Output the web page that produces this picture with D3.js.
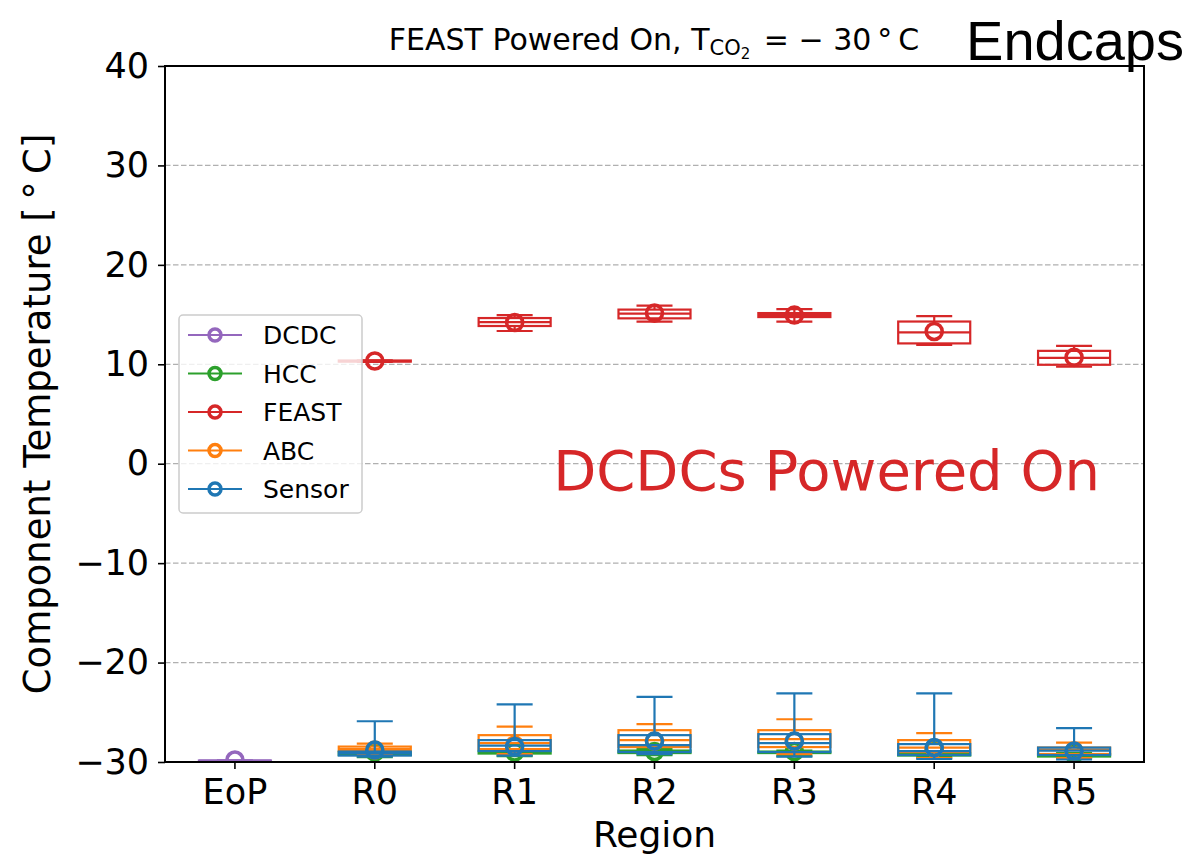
<!DOCTYPE html>
<html>
<head>
<meta charset="utf-8">
<script src="https://cdn.jsdelivr.net/npm/d3@7"></script>
<style>
  html, body { margin: 0; padding: 0; background: #fff; }
  svg { display: block; font-family: "DejaVu Sans", sans-serif; }
</style>
</head>
<body>
<svg id="chart" width="1184" height="857"></svg>
<script>
// Regions along the endcap and the component series
const regions = ["EoP", "R0", "R1", "R2", "R3", "R4", "R5"];
const seriesNames = ["DCDC", "HCC", "FEAST", "ABC", "Sensor"];
const seriesColors = ["#9467bd", "#2ca02c", "#d62728", "#ff7f0e", "#1f77b4"];
const yTicks = [-30, -20, -10, 0, 10, 20, 30, 40];

// Box statistics per region: [whisker low, q1, median, q3, whisker high]
const dcdcStats = [[-29.85, -29.85, -29.85, -29.85, -29.85], null, null, null, null, null, null];
const dcdcMeans = [-29.8, null, null, null, null, null, null];

const hccStats = [null,
  [-29.5, -29.3, -29.15, -29.0, -28.9],
  [-29.4, -29.15, -29.0, -28.9, -28.8],
  [-29.3, -29.1, -28.95, -28.85, -28.7],
  [-29.4, -29.1, -29.0, -28.95, -28.85],
  [-29.5, -29.35, -29.25, -29.15, -29.0],
  [-29.6, -29.45, -29.3, -29.2, -29.1]];
const hccMeans = [null, -29.0, -29.0, -28.95, -28.95, -28.7, -29.2];

const feastStats = [null,
  [10.25, 10.27, 10.32, 10.38, 10.4],
  [13.35, 13.85, 14.25, 14.65, 14.95],
  [14.3, 14.62, 15.1, 15.5, 15.9],
  [14.3, 14.75, 14.95, 15.15, 15.55],
  [11.95, 12.1, 13.2, 14.3, 14.85],
  [9.75, 9.95, 10.65, 11.35, 11.85]];
const feastMeans = [null, 10.33, 14.2, 15.15, 14.95, 13.3, 10.7];

const abcStats = [null,
  [-29.2, -28.9, -28.7, -28.45, -28.15],
  [-29.2, -28.7, -28.1, -27.3, -26.45],
  [-29.0, -28.5, -27.8, -26.8, -26.2],
  [-29.2, -28.5, -27.7, -26.8, -25.7],
  [-29.6, -29.0, -28.55, -27.8, -27.1],
  [-29.6, -29.2, -28.8, -28.55, -28.05]];
const abcMeans = [null, -28.8, -28.3, -27.9, -27.9, -28.6, -28.9];

const sensorStats = [null,
  [-29.45, -29.35, -29.1, -28.95, -25.9],
  [-29.35, -28.9, -28.35, -27.8, -24.2],
  [-29.2, -29.0, -28.3, -27.3, -23.45],
  [-29.45, -29.0, -28.1, -27.2, -23.1],
  [-29.7, -29.3, -28.9, -28.2, -23.1],
  [-29.75, -29.3, -28.85, -28.55, -26.6]];
const sensorMeans = [null, -28.8, -28.45, -27.9, -27.9, -28.55, -28.9];

const allStats = [dcdcStats, hccStats, feastStats, abcStats, sensorStats];
const allMeans = [dcdcMeans, hccMeans, feastMeans, abcMeans, sensorMeans];

const svg = d3.select("#chart");
const plot = { left: 165, right: 1144, top: 66, bottom: 762 };

const x = d3.scaleBand().domain(regions).range([plot.left, plot.right]).padding(0);
const y = d3.scaleLinear().domain([-30, 40]).range([plot.bottom, plot.top]);
const cx = r => x(r) + x.bandwidth() / 2;
const boxW = x.bandwidth() * 0.515;
const capW = boxW / 2;

svg.append("defs").append("clipPath").attr("id", "plotClip")
  .append("rect")
  .attr("x", plot.left).attr("y", plot.top)
  .attr("width", plot.right - plot.left).attr("height", plot.bottom - plot.top);

// Horizontal dashed grid
svg.append("g").selectAll("line")
  .data(yTicks.filter(t => t > -30 && t < 40))
  .join("line")
  .attr("x1", plot.left).attr("x2", plot.right)
  .attr("y1", d => y(d)).attr("y2", d => y(d))
  .attr("stroke", "#b0b0b0").attr("stroke-width", 1.3)
  .attr("stroke-dasharray", "5.5,2.5");

// Box plots, one group per component
const marks = svg.append("g").attr("clip-path", "url(#plotClip)");
seriesNames.forEach((name, si) => {
  const color = seriesColors[si];
  const g = marks.append("g").attr("class", "series-" + name);
  const rows = regions.map((r, i) => ({ r, s: allStats[si][i], m: allMeans[si][i] }))
    .filter(d => d.s);
  rows.forEach(d => {
    const [lo, q1, med, q3, hi] = d.s;
    const c = cx(d.r);
    const line = (x1, y1, x2, y2) => g.append("line")
      .attr("x1", x1).attr("y1", y1).attr("x2", x2).attr("y2", y2)
      .attr("stroke", color).attr("stroke-width", 2.2);
    // whiskers
    line(c, y(q1), c, y(lo));
    line(c, y(q3), c, y(hi));
    // caps
    line(c - capW / 2, y(lo), c + capW / 2, y(lo));
    line(c - capW / 2, y(hi), c + capW / 2, y(hi));
    // box
    g.append("rect")
      .attr("x", c - boxW / 2).attr("y", y(q3))
      .attr("width", boxW).attr("height", Math.max(0.01, y(q1) - y(q3)))
      .attr("fill", "none").attr("stroke", color).attr("stroke-width", 2.2);
    // median
    line(c - boxW / 2, y(med), c + boxW / 2, y(med));
    // mean marker
    if (d.m != null) {
      g.append("circle")
        .attr("cx", c).attr("cy", y(d.m)).attr("r", 8)
        .attr("fill", "none").attr("stroke", color).attr("stroke-width", 3.6);
    }
  });
});

// Axes
const yAxis = svg.append("g")
  .attr("transform", `translate(${plot.left},0)`)
  .call(d3.axisLeft(y).tickValues(yTicks).tickSize(7).tickPadding(9)
    .tickFormat(d => d < 0 ? "\u2212" + Math.abs(d) : d));
const xAxis = svg.append("g")
  .attr("transform", `translate(0,${plot.bottom})`)
  .call(d3.axisBottom(x).tickSize(7).tickPadding(10));
[yAxis, xAxis].forEach(a => {
  a.select(".domain").remove();
  a.selectAll(".tick line").attr("stroke", "#000").attr("stroke-width", 1.6);
  a.selectAll(".tick text").attr("fill", "#000")
    .style("font-family", "DejaVu Sans").style("font-size", "35px");
});

// Frame
svg.append("rect")
  .attr("x", plot.left).attr("y", plot.top)
  .attr("width", plot.right - plot.left).attr("height", plot.bottom - plot.top)
  .attr("fill", "none").attr("stroke", "#000").attr("stroke-width", 2);

// Axis titles
svg.append("text")
  .attr("x", (plot.left + plot.right) / 2).attr("y", 847)
  .attr("text-anchor", "middle").style("font-size", "36px")
  .text("Region");
svg.append("text")
  .attr("transform", `translate(50,${(plot.top + plot.bottom) / 2}) rotate(-90)`)
  .attr("text-anchor", "middle").style("font-size", "37px")
  .text("Component Temperature [\u2009\u00b0\u2009C]");

// Title with subscripted CO2
const title = svg.append("text")
  .attr("x", 654).attr("y", 50)
  .attr("text-anchor", "middle").style("font-size", "30px");
title.append("tspan").text("FEAST Powered On, T");
title.append("tspan").attr("baseline-shift", "-5").style("font-size", "21px").text("CO");
title.append("tspan").attr("baseline-shift", "-9").style("font-size", "15px").text("2");
title.append("tspan").attr("dx", 4).text(" = \u2212 30\u2009\u00b0\u2009C");

svg.append("text")
  .attr("x", 1184).attr("y", 60)
  .attr("text-anchor", "end").style("font-family", "Liberation Sans").style("font-size", "56px")
  .text("Endcaps");

svg.append("text")
  .attr("x", 1100).attr("y", 490)
  .attr("text-anchor", "end").attr("fill", "#d62728").style("font-size", "56px")
  .text("DCDCs Powered On");

// Legend
const legend = svg.append("g");
legend.append("rect")
  .attr("x", 179).attr("y", 315).attr("width", 183).attr("height", 198)
  .attr("rx", 4).attr("fill", "#fff").attr("fill-opacity", 0.8)
  .attr("stroke", "#ccc").attr("stroke-width", 1.5);
seriesNames.forEach((name, i) => {
  const ly = 335 + i * 38.5;
  legend.append("line")
    .attr("x1", 188).attr("x2", 242).attr("y1", ly).attr("y2", ly)
    .attr("stroke", seriesColors[i]).attr("stroke-width", 2.2);
  legend.append("circle")
    .attr("cx", 215).attr("cy", ly).attr("r", 6)
    .attr("fill", "none").attr("stroke", seriesColors[i]).attr("stroke-width", 3.5);
  legend.append("text")
    .attr("x", 263).attr("y", ly + 9).style("font-size", "25px")
    .text(name);
});
</script>
</body>
</html>
